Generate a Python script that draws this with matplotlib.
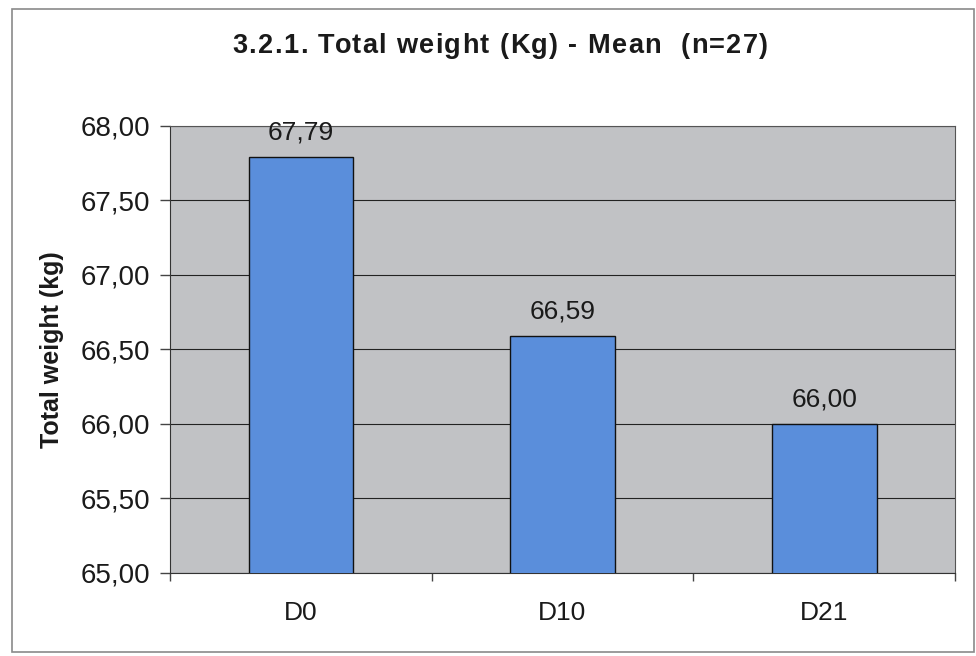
import matplotlib
matplotlib.use("Agg")
import matplotlib.pyplot as plt
from matplotlib.patches import Rectangle
from matplotlib.ticker import FixedLocator, NullFormatter

categories = ["D0", "D10", "D21"]
means = [67.79, 66.59, 66.00]
y_ticks = [65.0, 65.5, 66.0, 66.5, 67.0, 67.5, 68.0]
title = "3.2.1. Total weight (Kg) - Mean  (n=27)"

def comma(v):
    return f"{v:.2f}".replace(".", ",")

FONT = "Liberation Sans"
W, H = 976, 656

fig = plt.figure(figsize=(W / 100, H / 100), dpi=100)
fig.patch.set_facecolor("white")

# outer chart frame
fig.patches.append(Rectangle((12 / W, 4 / H), 962 / W, 643 / H,
                             transform=fig.transFigure, fill=False,
                             edgecolor="#8a8a8a", linewidth=1.2))

ax = fig.add_axes([170 / W, 83 / H, 785 / W, 447 / H])
ax.set_facecolor("#c1c2c5")

x = list(range(len(categories)))
ax.bar(x, means, width=0.4, bottom=0, color="#5a8edb", edgecolor="#111111",
       linewidth=1.0, zorder=3)

for xi, v in zip(x, means):
    ax.text(xi, v + 0.12, comma(v), ha="center", va="baseline", fontsize=19,
            color="#1a1a1a", family=FONT, zorder=4)

ax.set_xlim(-0.5, len(categories) - 0.5)
ax.set_ylim(65.0, 68.0)
ax.set_yticks(y_ticks)
ax.set_yticklabels([comma(t) for t in y_ticks], fontsize=20,
                   family=FONT, color="#1a1a1a")
ax.yaxis.grid(True, color="#222222", linewidth=0.8, zorder=1)
ax.set_axisbelow(True)

ax.set_xticks(x)
ax.set_xticklabels(categories, fontsize=19, family=FONT, color="#1a1a1a")
ax.tick_params(axis="x", length=0, pad=20)
ax.xaxis.set_minor_locator(FixedLocator([-0.5, 0.5, 1.5, 2.5]))
ax.xaxis.set_minor_formatter(NullFormatter())
ax.tick_params(axis="x", which="minor", length=6, color="#444444", width=1)
ax.tick_params(axis="y", length=7, color="#444444", width=1, pad=7)

for s in ["top", "right"]:
    ax.spines[s].set_color("#555555")
    ax.spines[s].set_linewidth(0.8)
ax.spines["left"].set_color("#333333")
ax.spines["bottom"].set_color("#333333")

ax.set_ylabel("Total weight (kg)", fontsize=18, fontweight="bold",
              family=FONT, labelpad=12, color="#1a1a1a")

# Title drawn letter by letter, spaced out to a fixed overall width
renderer = fig.canvas.get_renderer()
props = dict(fontsize=19.5, fontweight="bold", family=FONT, color="#1a1a1a")
title_width = 536.0

def text_width(s):
    if not s:
        return 0.0
    t = fig.text(0, 0, s.replace(" ", "\u00a0"), **props)
    w = t.get_window_extent(renderer).width
    t.remove()
    return w

natural = text_width(title)
tracking = max(0.0, (title_width - natural) / (len(title) - 1))
x0 = 500 - title_width / 2
baseline_y = H - 53
for i, ch in enumerate(title):
    if ch == " ":
        continue
    px = x0 + text_width(title[:i]) + tracking * i
    fig.text(px / W, baseline_y / H, ch, ha="left", va="baseline", **props)

fig.savefig("out.png", dpi=100, facecolor="white")
